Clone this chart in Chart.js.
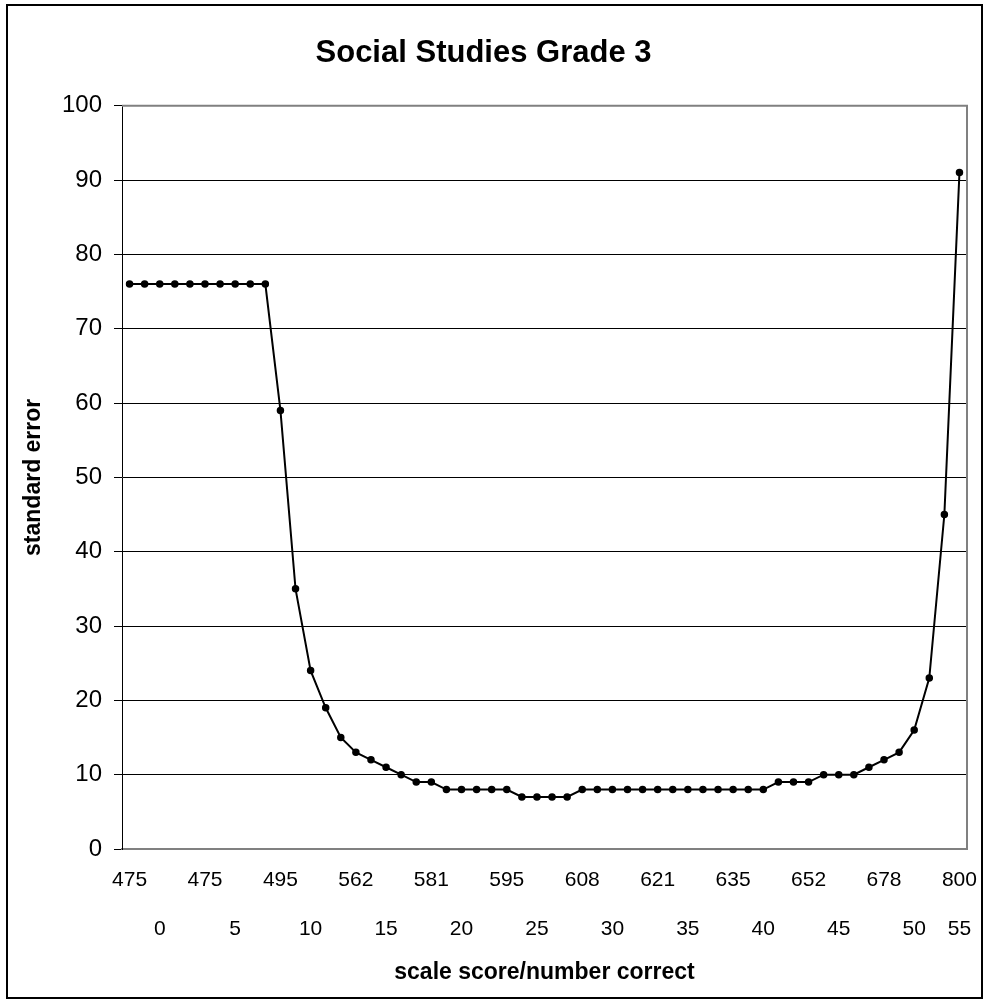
<!DOCTYPE html>
<html>
<head>
<meta charset="utf-8">
<title>Social Studies Grade 3</title>
<script src="https://cdn.jsdelivr.net/npm/chart.js@4/dist/chart.umd.min.js"></script>
<style>
  html, body { margin: 0; padding: 0; background: #fff; }
  canvas { display: block; }
</style>
</head>
<body>
<canvas id="chart" width="989" height="1001"></canvas>
<script>
// one point per number correct, 0..55
const standardError = [
  76, 76, 76, 76, 76, 76, 76, 76, 76, 76,
  59, 35, 24, 19, 15, 13, 12, 11, 10, 9,
  9, 8, 8, 8, 8, 8, 7, 7, 7, 7,
  8, 8, 8, 8, 8, 8, 8, 8, 8, 8,
  8, 8, 8, 9, 9, 9, 10, 10, 10, 11,
  12, 13, 16, 23, 45, 91
]

// scale score shown under every 5th point
const scaleScoreLabels = ["475", "475", "495", "562", "581", "595", "608", "621", "635", "652", "678", "800"]

// number correct row, and the points it sits under in the original sheet
const numberCorrectLabels = ["0", "5", "10", "15", "20", "25", "30", "35", "40", "45", "50", "55"]
const numberCorrectSlots = [2, 7, 12, 17, 22, 27, 32, 37, 42, 47, 52, 55]

const labels = standardError.map((v, i) => {
  const top = i % 5 === 0 ? scaleScoreLabels[i / 5] : ""
  const k = numberCorrectSlots.indexOf(i)
  const bottom = k >= 0 ? numberCorrectLabels[k] : ""
  return [top, bottom]
})

Chart.defaults.font.family = "'Liberation Sans', Arial, sans-serif"
Chart.defaults.color = "#000"

const framePlugin = {
  id: "frame",
  beforeDatasetsDraw(chart) {
    const { ctx, chartArea: a } = chart
    ctx.save()
    ctx.strokeStyle = "#808080"
    ctx.lineWidth = 2
    ctx.beginPath()
    ctx.moveTo(a.left, a.top)
    ctx.lineTo(a.right, a.top)
    ctx.lineTo(a.right, a.bottom)
    ctx.stroke()
    ctx.restore()
  },
  afterDraw(chart) {
    const ctx = chart.ctx
    ctx.save()
    ctx.strokeStyle = "#000"
    ctx.lineWidth = 2
    ctx.strokeRect(7, 5, 975, 993)
    ctx.restore()
  }
}

new Chart(document.getElementById("chart"), {
  type: "line",
  data: {
    labels: labels,
    datasets: [{
      data: standardError,
      borderColor: "#000",
      borderWidth: 2,
      pointRadius: 3,
      pointBorderWidth: 1.5,
      pointBackgroundColor: "#000",
      pointBorderColor: "#000",
      tension: 0,
      fill: false
    }]
  },
  options: {
    responsive: false,
    animation: false,
    devicePixelRatio: 1,
    layout: {
      padding: { left: 0, right: 22, top: 0, bottom: 0 }
    },
    plugins: {
      legend: { display: false },
      tooltip: { enabled: false },
      title: {
        display: true,
        text: "Social Studies Grade 3",
        color: "#000",
        font: { size: 31, weight: "bold" },
        padding: { top: 35, bottom: 33.5 }
      }
    },
    scales: {
      x: {
        offset: true,
        grid: { display: false, drawTicks: false },
        border: { display: true, color: "#808080", width: 2 },
        ticks: {
          autoSkip: false,
          maxRotation: 0,
          minRotation: 0,
          padding: 7,
          color: "#000",
          font: { size: 21, lineHeight: "49px" }
        },
        title: {
          display: true,
          text: "scale score/number correct",
          color: "#000",
          font: { size: 23, weight: "bold" },
          padding: { top: 0, bottom: 15 }
        },
        afterFit: (scale) => { scale.height = 152 }
      },
      y: {
        min: 0,
        max: 100,
        ticks: {
          stepSize: 10,
          padding: 12,
          color: "#000",
          font: { size: 24 }
        },
        grid: {
          color: (c) => (c.tick.value === 0 || c.tick.value === 100) ? "rgba(0,0,0,0)" : "#000",
          tickColor: "#000",
          tickLength: 8,
          lineWidth: 1
        },
        border: { color: "#000", width: 1 },
        title: {
          display: true,
          text: "standard error",
          color: "#000",
          font: { size: 23, weight: "bold" },
          padding: { top: 20, bottom: 0 }
        },
        afterFit: (scale) => { scale.width = 122 }
      }
    }
  },
  plugins: [framePlugin]
})
</script>
</body>
</html>
